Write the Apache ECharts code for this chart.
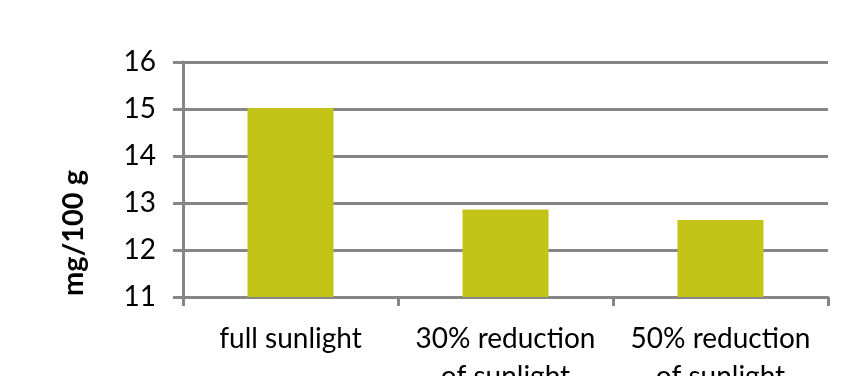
<!DOCTYPE html>
<html>
<head>
<meta charset="utf-8">
<script src="https://cdn.jsdelivr.net/npm/echarts@6/dist/echarts.min.js"></script>
<style>
  html, body { margin: 0; padding: 0; background: #fff; }
  #chart { width: 855px; height: 376px; }
</style>
</head>
<body>
<div id="chart"></div>
<script>
  // data
  var categories = ['full sunlight', '30% reduction\nof sunlight', '50% reduction\nof sunlight'];
  var values = [15.02, 12.86, 12.64];
  var yTicks = { min: 11, max: 16, interval: 1 };
  var yName = 'mg/100 g';

  var gray = '#868686';
  var font = 'Lato, "Open Sans", sans-serif';

  var chart = echarts.init(document.getElementById('chart'));
  chart.setOption({
    backgroundColor: '#ffffff',
    animation: false,
    grid: {
      left: 183, right: 27, top: 62, bottom: 79,
      containLabel: false,
      outerBoundsMode: 'none'
    },
    xAxis: {
      type: 'category',
      data: categories,
      axisLine: { lineStyle: { color: gray, width: 3 } },
      axisTick: { show: true, length: 9, lineStyle: { color: gray, width: 3 } },
      axisLabel: {
        color: '#000',
        fontFamily: font,
        fontSize: 28,
        lineHeight: 38,
        margin: 23,
        interval: 0
      }
    },
    yAxis: {
      type: 'value',
      min: yTicks.min,
      max: yTicks.max,
      interval: yTicks.interval,
      axisLine: { show: true, lineStyle: { color: gray, width: 3 } },
      axisTick: { show: true, length: 10, lineStyle: { color: gray, width: 3 } },
      splitLine: { show: true, lineStyle: { color: gray, width: 3 } },
      axisLabel: {
        color: '#000',
        fontFamily: font,
        fontSize: 28,
        margin: 27
      }
    },
    graphic: [{
      type: 'text',
      x: 74,
      y: 233,
      rotation: Math.PI / 2,
      style: {
        text: yName,
        fill: '#000',
        font: 'bold 29px ' + font,
        align: 'center',
        verticalAlign: 'middle'
      }
    }],
    series: [{
      type: 'bar',
      data: values,
      barWidth: '40%',
      itemStyle: { color: '#C4C418' }
    }]
  });
</script>
</body>
</html>
